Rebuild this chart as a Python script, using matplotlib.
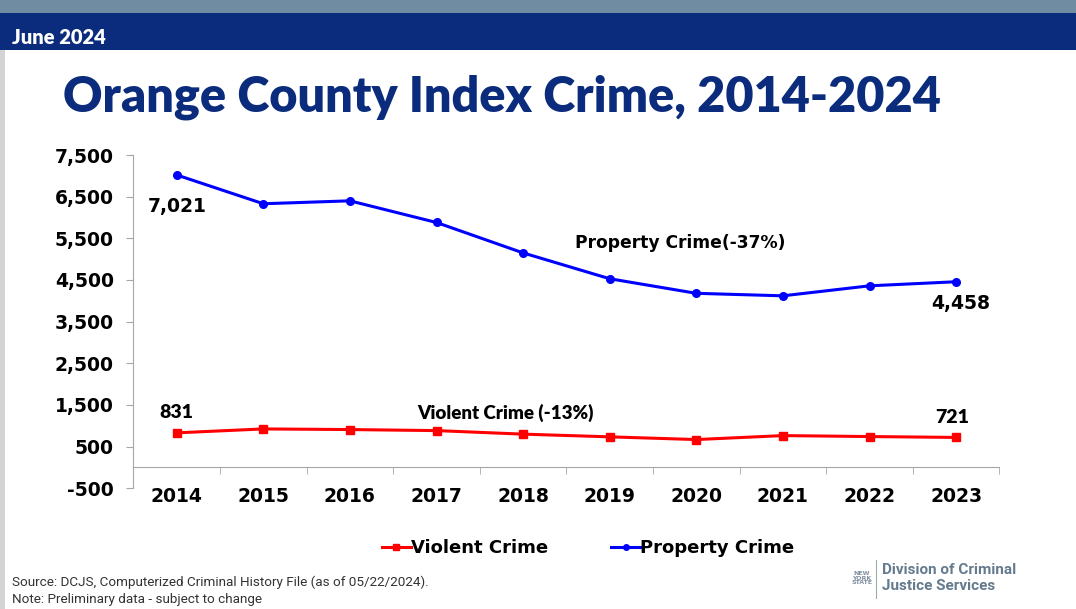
import numpy as np
import matplotlib.pyplot as plt
from matplotlib.patches import Rectangle

years = ['2014', '2015', '2016', '2017', '2018', '2019', '2020', '2021', '2022', '2023']
violent = [831, 925, 910, 885, 800, 735, 670, 765, 742, 721]
property_crime = [7021, 6330, 6400, 5880, 5150, 4530, 4180, 4120, 4360, 4458]
y_ticks = [-500, 500, 1500, 2500, 3500, 4500, 5500, 6500, 7500]

NAVY = '#0b2c7c'

fig = plt.figure(figsize=(10.76, 6.09), dpi=100)
fig.patch.set_facecolor('white')

# header bars and left border
fig.patches.append(Rectangle((0, 1 - 13 / 609), 1, 13 / 609, transform=fig.transFigure,
                             facecolor='#6f8ca2', edgecolor='none'))
fig.patches.append(Rectangle((0, 1 - 50 / 609), 1, 37 / 609, transform=fig.transFigure,
                             facecolor=NAVY, edgecolor='none'))
fig.patches.append(Rectangle((0, 0), 5 / 1076, 1 - 50 / 609, transform=fig.transFigure,
                             facecolor='#d4d4d4', edgecolor='none'))
fig.text(12 / 1076, 1 - 37 / 609, 'June 2024', color='white', fontsize=14.5,
         fontweight='heavy', family='Lato', va='center', ha='left')

fig.text(502 / 1076, 1 - 97 / 609, 'Orange County Index Crime, 2014-2024', color=NAVY,
         fontsize=35, fontweight='heavy', family='Lato', ha='center', va='center')

ax = fig.add_axes([133.4 / 1076, 1 - 488.3 / 609, 866 / 1076, 333.3 / 609])
x = np.arange(len(years))

l1, = ax.plot(x, violent, color='#ff0000', lw=2.2, marker='s', ms=6, label='Violent Crime')
l2, = ax.plot(x, property_crime, color='#0000ff', lw=2.2, marker='o', ms=5.5, label='Property Crime')

ax.set_xlim(-0.5, len(years) - 0.5)
ax.set_ylim(-500, 7500)
ax.set_yticks(y_ticks)
ax.set_yticklabels([f'{v:,}' for v in y_ticks])
ax.set_xticks(x)
ax.set_xticklabels(years)
ax.set_xticks(np.arange(-0.5, len(years)), minor=True)

for s in ['top', 'right']:
    ax.spines[s].set_visible(False)
ax.spines['left'].set_color('#a6a6a6')
ax.spines['bottom'].set_color('#a6a6a6')
ax.spines['bottom'].set_position(('data', 0))

ax.tick_params(axis='y', length=5, color='#a6a6a6', pad=9, labelsize=13.5)
ax.tick_params(axis='x', which='major', length=0, pad=14, labelsize=13.5)
ax.tick_params(axis='x', which='minor', length=5, color='#a6a6a6')
for lab in ax.get_xticklabels() + ax.get_yticklabels():
    lab.set_fontweight('bold')

# data labels
ax.annotate(f'{property_crime[0]:,}', (x[0], property_crime[0]), xytext=(0, -23),
            textcoords='offset points', ha='center', va='center', fontsize=13.5, fontweight='bold')
ax.annotate(f'{property_crime[-1]:,}', (x[-1], property_crime[-1]), xytext=(3, -16),
            textcoords='offset points', ha='center', va='center', fontsize=13.5, fontweight='bold')
ax.annotate(f'{violent[0]:,}', (x[0], violent[0]), xytext=(0, 15),
            textcoords='offset points', ha='center', va='center', fontsize=14, fontweight='heavy', family='Lato')
ax.annotate(f'{violent[-1]:,}', (x[-1], violent[-1]), xytext=(-3, 14),
            textcoords='offset points', ha='center', va='center', fontsize=14, fontweight='heavy', family='Lato')
ax.text(5.82, 5500 - 110, 'Property Crime(-37%)', ha='center', va='center', fontsize=12.3, fontweight='bold')
ax.text(3.8, 1300, 'Violent Crime (-13%)', ha='center', va='center', fontsize=13.5,
        fontweight='heavy', family='Lato')

leg = fig.legend(handles=[l1, l2], loc='center', bbox_to_anchor=(588 / 1076, 1 - 548 / 609),
                 ncol=2, frameon=False, handlelength=1.6, handletextpad=0.0, columnspacing=3.5,
                 prop={'weight': 'bold', 'size': 13})
for h in leg.legend_handles:
    h.set_markersize(4)

fig.text(12 / 1076, 1 - 582 / 609, 'Source: DCJS, Computerized Criminal History File (as of 05/22/2024).',
         fontsize=9.7, family=['Liberation Sans Narrow', 'Roboto'], color='#333333', va='center')
fig.text(12 / 1076, 1 - 600 / 609, 'Note: Preliminary data - subject to change',
         fontsize=9.7, family=['Liberation Sans Narrow', 'Roboto'], color='#333333', va='center')

# agency mark
fig.text(862 / 1076, 1 - 578 / 609, 'NEW\nYORK\nSTATE', fontsize=4.5, fontweight='bold',
         color='#8090a0', ha='center', va='center', linespacing=0.9)
fig.add_artist(plt.Line2D([876 / 1076, 876 / 1076], [1 - 560 / 609, 1 - 598 / 609],
                          color='#a0aab4', lw=0.8, transform=fig.transFigure))
fig.text(882 / 1076, 1 - 570 / 609, 'Division of Criminal', fontsize=11, fontweight='semibold',
         family=['Liberation Sans Narrow', 'Roboto'], color='#647a8e', va='center')
fig.text(882 / 1076, 1 - 586 / 609, 'Justice Services', fontsize=11, fontweight='semibold',
         family=['Liberation Sans Narrow', 'Roboto'], color='#647a8e', va='center')

fig.savefig('out.png', dpi=100)
